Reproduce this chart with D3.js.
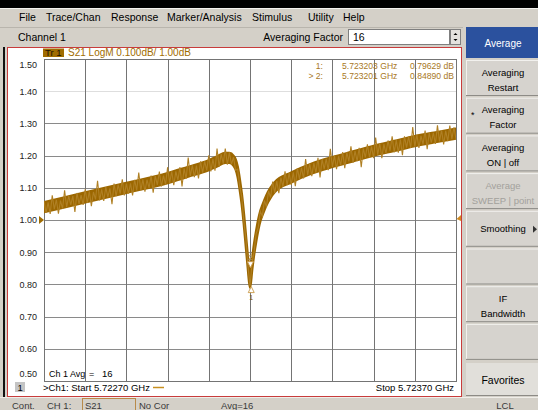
<!DOCTYPE html>
<meta charset="utf-8">
<style>
  body { margin: 0; background: #d4d0c8; }
  svg { display: block; font-family: "Liberation Sans", Arial, sans-serif; }
</style>
<script src="https://d3js.org/d3.v7.min.js"></script>
<svg></svg>

<script>
// ---- data ----
var menuItems = ["File", "Trace/Chan", "Response", "Marker/Analysis", "Stimulus", "Utility", "Help"];
var menuX = [19, 46, 111, 167, 252, 308, 343];

var softkeys = [["Averaging", "Restart"], ["Averaging", "Factor"], ["Averaging", "ON | off"],
                ["Average", "SWEEP | point"], ["Smoothing"], [], ["IF", "Bandwidth"], []];
var softkeyDisabled = [false, false, false, true, false, false, false, false];

var yTicks = [1.50, 1.40, 1.30, 1.20, 1.10, 1.00, 0.90, 0.80, 0.70, 0.60, 0.50];
var xTicksKHz = [0, 100, 200, 300, 400, 500, 600, 700, 800, 900, 1000];

var startGHz = 5.72270, stopGHz = 5.72370;
var avgFactor = 16;
var refLevel = 1.00, scalePerDiv = 0.100;

// sweep points, kHz above start
var sweepKHz = [
  0,5,10,15,20,25,30,35,40,45,50,55,60,65,70,75,80,85,90,95,
  100,105,110,115,120,125,130,135,140,145,150,155,160,165,170,175,180,185,190,195,
  200,205,210,215,220,225,230,235,240,245,250,255,260,265,270,275,280,285,290,295,
  300,305,310,315,320,325,330,335,340,345,350,355,360,365,370,375,380,385,390,395,
  400,405,410,415,420,425,430,435,440,445,450,455,460,465,470,475,480,485,490,495,
  500,505,510,515,520,525,530,535,540,545,550,555,560,565,570,575,580,585,590,595,
  600,605,610,615,620,625,630,635,640,645,650,655,660,665,670,675,680,685,690,695,
  700,705,710,715,720,725,730,735,740,745,750,755,760,765,770,775,780,785,790,795,
  800,805,810,815,820,825,830,835,840,845,850,855,860,865,870,875,880,885,890,895,
  900,905,910,915,920,925,930,935,940,945,950,955,960,965,970,975,980,985,990,995,1000];

// S21 LogM, dB (noisy trace)
var traceDb = [
  1.059,1.022,1.055,1.019,1.077,1.034,1.063,1.020,1.060,1.035,1.092,1.040,1.075,1.047,1.074,1.025,1.084,1.050,1.077,1.047,
  1.095,1.053,1.089,1.043,1.087,1.064,1.122,1.061,1.095,1.059,1.102,1.071,1.098,1.049,1.113,1.074,1.110,1.082,1.126,1.076,
  1.113,1.082,1.114,1.076,1.125,1.092,1.147,1.092,1.126,1.088,1.125,1.100,1.138,1.085,1.137,1.109,1.150,1.104,1.138,1.110,
  1.164,1.115,1.151,1.108,1.151,1.124,1.164,1.104,1.160,1.128,1.194,1.136,1.170,1.133,1.169,1.129,1.182,1.147,1.182,1.154,
  1.201,1.151,1.189,1.153,1.222,1.166,1.205,1.175,1.222,1.172,1.210,1.173,1.195,1.154,1.158,1.105,1.071,0.997,0.942,0.859,
  0.795,0.866,0.903,0.958,0.976,1.027,1.012,1.061,1.041,1.090,1.070,1.119,1.084,1.121,1.083,1.132,1.103,1.151,1.108,1.146,
  1.109,1.148,1.105,1.161,1.128,1.162,1.129,1.189,1.140,1.175,1.136,1.177,1.147,1.193,1.132,1.189,1.158,1.190,1.155,1.221,
  1.165,1.200,1.158,1.198,1.170,1.211,1.161,1.210,1.182,1.229,1.178,1.214,1.183,1.224,1.164,1.222,1.194,1.235,1.194,1.228,
  1.192,1.256,1.203,1.238,1.192,1.236,1.207,1.247,1.215,1.260,1.210,1.248,1.209,1.250,1.201,1.260,1.225,1.259,1.224,1.289,
  1.228,1.265,1.224,1.261,1.235,1.278,1.220,1.271,1.240,1.271,1.236,1.294,1.244,1.279,1.235,1.277,1.245,1.293,1.252,1.288,1.251];

// averaged level of the trace (dense core of the noise band)
var meanKHz = [0,100,200,300,350,400,420,440,450,460,465,470,475,480,485,490,495,500,
               505,510,515,520,525,530,540,550,560,600,650,700,750,800,850,900,950,1000];
var meanDb  = [1.040,1.070,1.100,1.130,1.150,1.170,1.182,1.193,1.193,1.184,1.173,1.150,1.112,1.065,1.005,0.935,0.865,0.805,
               0.860,0.910,0.950,0.985,1.012,1.030,1.062,1.085,1.102,1.132,1.160,1.180,1.1975,1.215,1.230,1.245,1.257,1.268];

var markerNames = ["1", "2"];
var markerKHz = [503, 501];
var markerDb = [0.79629, 0.84890];
var activeMarker = 1;

var statusItems = ["Cont.", "CH 1:", "S21", "No Cor", "Avg=" + avgFactor];
var statusX = [12, 47, 85, 139, 221];

// ---- drawing ----
var W = 538, H = 410;
var TRACE_COLOR = "#a06c00";

var svg = d3.select("svg")
            .attr("width", W)
            .attr("height", H);

svg.append("rect").attr("width", W).attr("height", H).attr("fill", "#d4d0c8");
svg.append("rect").attr("width", W).attr("height", 8).attr("fill", "#000");
svg.append("line").attr("x1", 0).attr("x2", W).attr("y1", 8.5).attr("y2", 8.5).attr("stroke", "#f4f2ee");
svg.append("line").attr("x1", 0).attr("x2", 463).attr("y1", 27.5).attr("y2", 27.5).attr("stroke", "#b9b5ad");

// menu bar
svg.append("g").selectAll("text")
   .data(menuItems)
   .enter().append("text")
   .attr("x", function(d, i){ return menuX[i]; })
   .attr("y", 21)
   .attr("font-size", 10.5)
   .attr("fill", "#000")
   .text(function(d){ return d; });

// channel bar
svg.append("text").attr("x", 18).attr("y", 41).attr("font-size", 10.5).text("Channel 1");
svg.append("text").attr("x", 343).attr("y", 41).attr("font-size", 10.5)
   .attr("text-anchor", "end").text("Averaging Factor");
svg.append("rect").attr("x", 348.5).attr("y", 29.5).attr("width", 101).attr("height", 15)
   .attr("fill", "#fff").attr("stroke", "#7f7f7f");
svg.append("text").attr("x", 353).attr("y", 41).attr("font-size", 10.5).text(avgFactor);
svg.append("rect").attr("x", 450.5).attr("y", 29.5).attr("width", 10).attr("height", 15)
   .attr("fill", "#e4e2de").attr("stroke", "#7f7f7f");
svg.append("path").attr("d", "M453.5,35 L457.5,35 L455.5,33 Z M453.5,39 L457.5,39 L455.5,41 Z").attr("fill", "#000");

// chart window frame
svg.append("rect").attr("x", 3).attr("y", 47).attr("width", 2).attr("height", 350).attr("fill", "#111");
svg.append("rect").attr("x", 7.5).attr("y", 47.5).attr("width", 454).attr("height", 349)
   .attr("fill", "#fff").attr("stroke", "#c83c3c");

// scales
var x = d3.scaleLinear().domain([0, 1000]).range([44, 456]);
var y = d3.scaleLinear().domain([0.5, 1.5]).range([381, 59]);

var gridY = svg.append("g")
   .attr("transform", "translate(44,0)")
   .call(d3.axisLeft(y).tickValues(yTicks).tickSize(-(456 - 44)).tickFormat(d3.format(".2f")));
gridY.select(".domain").remove();
gridY.selectAll("line")
     .attr("stroke", function(d){ return d === 1.40 ? "#dedede" : "#8a8a8a"; })
     .attr("shape-rendering", "crispEdges");
gridY.selectAll("text")
     .attr("x", -7)
     .attr("font-size", 9)
     .attr("font-family", "Liberation Sans, Arial, sans-serif")
     .attr("fill", "#222")
     .attr("dy", function(d){ return d === 1.50 ? "0.95em" : (d === 0.50 ? "-0.55em" : "0.32em"); });

var gridX = svg.append("g")
   .attr("transform", "translate(0,381)")
   .call(d3.axisBottom(x).tickValues(xTicksKHz).tickSize(-(381 - 59)).tickFormat(""));
gridX.select(".domain").remove();
gridX.selectAll("line").attr("stroke", "#747474").attr("shape-rendering", "crispEdges");

svg.append("rect").attr("x", 44).attr("y", 59).attr("width", 412).attr("height", 322)
   .attr("fill", "none").attr("stroke", "#747474").attr("shape-rendering", "crispEdges");

// trace
svg.append("clipPath").attr("id", "plotclip")
   .append("rect").attr("x", 44).attr("y", 50).attr("width", 412).attr("height", 335);

var traceG = svg.append("g").attr("clip-path", "url(#plotclip)");

// dense averaged core of the band
var coreHalf = 0.015;
var core = d3.area()
   .x(function(d){ return x(d[0]); })
   .y0(function(d){ return y(d[1] - coreHalf); })
   .y1(function(d){ return y(d[1] + coreHalf); })
   .curve(d3.curveMonotoneX);

traceG.append("path")
   .datum(d3.zip(meanKHz, meanDb))
   .attr("d", core)
   .attr("fill", "#9c6700")
   .attr("stroke", "#9c6700")
   .attr("stroke-width", 2.6)
   .attr("stroke-linejoin", "round");

// the noisy sweep itself, on top so its spikes fray the edges
var line = d3.line()
   .x(function(d){ return x(d[0]); })
   .y(function(d){ return y(d[1]); });

traceG.append("path")
   .datum(d3.zip(sweepKHz, traceDb))
   .attr("d", line)
   .attr("fill", "none")
   .attr("stroke", "#b08024")
   .attr("stroke-width", 1.1);

// markers
markerNames.forEach(function(name, i){
  var mx = x(markerKHz[i]), my = y(markerDb[i]);
  var up = (i === activeMarker);
  var tri = up ? [[mx - 3, my - 7], [mx + 3, my - 7], [mx, my - 1]]
               : [[mx, my + 1], [mx - 3, my + 7], [mx + 3, my + 7]];
  svg.append("path")
     .attr("d", "M" + tri.join("L") + "Z")
     .attr("fill", "#fff")
     .attr("stroke", "#c99a48")
     .attr("stroke-width", 0.9);
  svg.append("text")
     .attr("x", mx).attr("y", up ? my - 9 : my + 14)
     .attr("text-anchor", "middle")
     .attr("font-size", 7)
     .attr("fill", up ? "#fff" : "#8a5a00")
     .attr("stroke", up ? "#8a5a00" : "none")
     .attr("stroke-width", 0.3)
     .text(name);
});

// reference level arrows
svg.append("path")
   .attr("d", "M39," + (y(refLevel) - 4) + " L44," + y(refLevel) + " L39," + (y(refLevel) + 4) + " Z")
   .attr("fill", TRACE_COLOR);
svg.append("path")
   .attr("d", "M461," + (y(refLevel) - 5) + " L456.5," + (y(refLevel) - 1) + " L461," + (y(refLevel) + 1) + " Z")
   .attr("fill", "#d08a20");

// trace title
svg.append("rect").attr("x", 43).attr("y", 48.5).attr("width", 21).attr("height", 8.5).attr("fill", TRACE_COLOR);
svg.append("text").attr("x", 45).attr("y", 56).attr("font-size", 9.5).attr("fill", "#1c1200").text("Tr 1");
svg.append("text").attr("x", 68).attr("y", 56).attr("font-size", 10).attr("fill", TRACE_COLOR)
   .text("S21 LogM " + scalePerDiv.toFixed(3) + "dB/ " + refLevel.toFixed(2) + "dB");

// marker readout
var readout = svg.append("g").attr("font-size", 8.6).attr("fill", "#a8781e");
markerNames.forEach(function(name, i){
  var ry = 69 + i * 10;
  readout.append("text").attr("x", 323).attr("y", ry).attr("text-anchor", "end")
         .text((i === activeMarker ? "> " : "") + name + ":");
  readout.append("text").attr("x", 342).attr("y", ry)
         .text((startGHz + markerKHz[i] / 1e6).toFixed(6) + " GHz");
  readout.append("text").attr("x", 454).attr("y", ry).attr("text-anchor", "end")
         .text(markerDb[i].toFixed(5) + " dB");
});

// averaging annotation
svg.append("text").attr("x", 49).attr("y", 376.5).attr("font-size", 9).text("Ch 1 Avg");
svg.append("text").attr("x", 89).attr("y", 376.5).attr("font-size", 9).text("=");
svg.append("text").attr("x", 102).attr("y", 376.5).attr("font-size", 9.5).text(avgFactor);

// stimulus line
svg.append("rect").attr("x", 15).attr("y", 382).attr("width", 10).attr("height", 10).attr("fill", "#c4c4c4");
svg.append("text").attr("x", 17.5).attr("y", 390.5).attr("font-size", 9.5).text("1");
svg.append("text").attr("x", 43).attr("y", 390.5).attr("font-size", 9.5)
   .text(">Ch1: Start  " + startGHz.toFixed(5) + " GHz");
svg.append("line").attr("x1", 153).attr("x2", 164).attr("y1", 387.5).attr("y2", 387.5)
   .attr("stroke", "#c89020").attr("stroke-width", 1.5);
svg.append("text").attr("x", 454).attr("y", 390.5).attr("font-size", 9.5).attr("text-anchor", "end")
   .text("Stop  " + stopGHz.toFixed(5) + " GHz");

// softkey panel
svg.append("rect").attr("x", 466).attr("y", 27).attr("width", 72).attr("height", 31).attr("fill", "#2b519e");
svg.append("text").attr("x", 503).attr("y", 46.5).attr("font-size", 10).attr("fill", "#fff")
   .attr("text-anchor", "middle").text("Average");

var keys = svg.append("g").selectAll("g")
   .data(softkeys)
   .enter().append("g")
   .attr("transform", function(d, i){ return "translate(466," + (60 + i * 37.7) + ")"; });

keys.append("rect").attr("width", 72).attr("height", 36).attr("fill", "#d6d3ce");
keys.append("line").attr("x1", 0).attr("x2", 72).attr("y1", 0.5).attr("y2", 0.5).attr("stroke", "#f2f1ee");
keys.append("line").attr("x1", 0.5).attr("x2", 0.5).attr("y1", 0).attr("y2", 36).attr("stroke", "#f2f1ee");
keys.append("line").attr("x1", 0).attr("x2", 72).attr("y1", 35.5).attr("y2", 35.5).attr("stroke", "#8d8b86");

keys.each(function(d, i){
  var k = d3.select(this);
  d.forEach(function(label, j){
    k.append("text")
     .attr("x", 37)
     .attr("y", d.length === 1 ? 21.5 : 15.5 + j * 15)
     .attr("font-size", 9.5)
     .attr("text-anchor", "middle")
     .attr("fill", softkeyDisabled[i] ? "#a3a19c" : "#000")
     .text(label);
  });
  if (d[0] === "Averaging" && d[1] === "Factor"){
    k.append("text").attr("x", 5).attr("y", 20).attr("font-size", 9).text("*");
  }
  if (d[0] === "Smoothing"){
    k.append("path").attr("d", "M67,15 L71,18.5 L67,22 Z").attr("fill", "#333");
  }
});

svg.append("rect").attr("x", 466).attr("y", 363).attr("width", 72).attr("height", 33).attr("fill", "#e1dfda");
svg.append("line").attr("x1", 466).attr("x2", 538).attr("y1", 395.5).attr("y2", 395.5).attr("stroke", "#8d8b86");
svg.append("text").attr("x", 503).attr("y", 384).attr("font-size", 10.5).attr("text-anchor", "middle").text("Favorites");

// status bar
svg.append("line").attr("x1", 0).attr("x2", W).attr("y1", 397.5).attr("y2", 397.5).attr("stroke", "#f0eee9");
svg.append("rect").attr("x", 82.5).attr("y", 398.5).attr("width", 53).attr("height", 12)
   .attr("fill", "none").attr("stroke", "#b88a4a");
svg.append("g").selectAll("text")
   .data(statusItems)
   .enter().append("text")
   .attr("x", function(d, i){ return statusX[i]; })
   .attr("y", 408.5)
   .attr("font-size", 9.5)
   .attr("fill", "#3a3a3a")
   .text(function(d){ return d; });
svg.append("text").attr("x", 505).attr("y", 408.5).attr("font-size", 9.5).attr("fill", "#3a3a3a")
   .attr("text-anchor", "middle").text("LCL");
</script>
